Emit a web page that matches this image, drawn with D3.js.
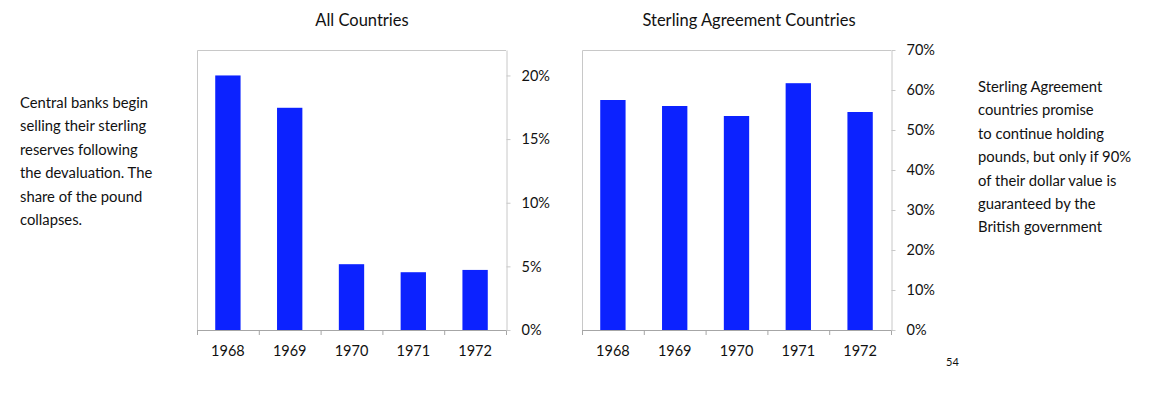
<!DOCTYPE html>
<html>
<head>
    <meta charset="UTF-8">
    <title>Sterling reserves</title>
    <script src="https://d3js.org/d3.v7.min.js"></script>
    <style>
        body { margin: 0; background: #fff; }
        svg text { font-family: Lato, "Open Sans", sans-serif; fill: #111; }
        .title { font-size: 16.5px; text-anchor: middle; }
        .tick text { font-size: 14.5px; }
        .note { font-size: 14.8px; }
        .frame { fill: none; stroke: #c8c8c8; stroke-width: 1; }
    </style>
</head>
<body>
<script>
    const years = ['1968', '1969', '1970', '1971', '1972'];
    const allCountries = [0.200, 0.1746, 0.0517, 0.0454, 0.0472];
    const sterlingAgreement = [0.575, 0.560, 0.535, 0.617, 0.545];
    const allTicks = [0, 0.05, 0.10, 0.15, 0.20];
    const sterlingTicks = [0, 0.1, 0.2, 0.3, 0.4, 0.5, 0.6, 0.7];

    const leftNote = ['Central banks begin', 'selling their sterling', 'reserves following',
        'the devaluation. The', 'share of the pound', 'collapses.'];
    const rightNote = ['Sterling Agreement', 'countries promise', 'to continue holding',
        'pounds, but only if 90%', 'of their dollar value is', 'guaranteed by the', 'British government'];

    const width = 1161;
    const height = 398;

    const svg = d3.select('body')
        .append('svg')
        .attr('width', width)
        .attr('height', height);

    function drawChart(opts) {
        const x = d3.scaleBand()
            .domain(years)
            .range([opts.left, opts.right])
            .paddingInner(0.59)
            .paddingOuter(0.295);

        const y = d3.scaleLinear()
            .domain([0, opts.max])
            .range([opts.bottom, opts.top]);

        const g = svg.append('g');

        // plot frame (left + top), right axis drawn separately
        g.append('path')
            .attr('class', 'frame')
            .attr('d', `M${opts.left + 0.5},${opts.bottom}V${opts.top + 0.5}H${opts.right}`);

        g.selectAll('.bar')
            .data(opts.values)
            .enter()
            .append('rect')
            .attr('class', 'bar')
            .attr('x', (d, i) => x(years[i]))
            .attr('y', d => y(d))
            .attr('width', x.bandwidth())
            .attr('height', d => opts.bottom - y(d))
            .attr('fill', '#0c22ff');

        // category axis
        const xAxis = g.append('g')
            .attr('transform', `translate(0, ${opts.bottom})`)
            .call(d3.axisBottom(x).tickSize(0).tickPadding(16));
        xAxis.select('.domain').attr('stroke', '#a6a6a6');
        // separator ticks between categories
        const step = x.step();
        xAxis.selectAll('.sep')
            .data(d3.range(years.length + 1))
            .enter()
            .append('line')
            .attr('x1', i => opts.left + 0.5 + i * step)
            .attr('x2', i => opts.left + 0.5 + i * step)
            .attr('y1', 0)
            .attr('y2', 5)
            .attr('stroke', '#a6a6a6');

        // value axis on the right
        const yAxis = g.append('g')
            .attr('transform', `translate(${opts.right + 0.5}, 0)`)
            .call(d3.axisRight(y)
                .tickValues(opts.ticks)
                .tickFormat(d3.format('.0%'))
                .tickSize(4)
                .tickSizeOuter(0)
                .tickPadding(11));
        yAxis.select('.domain').attr('stroke', '#c8c8c8');
        yAxis.selectAll('.tick line').attr('stroke', '#c8c8c8');
        yAxis.selectAll('.tick text').attr('text-anchor', 'start');

        svg.append('text')
            .attr('class', 'title')
            .attr('x', opts.titleX)
            .attr('y', 26)
            .text(opts.title);
    }

    drawChart({
        left: 197, right: 506, top: 50, bottom: 330,
        max: 0.22, values: allCountries, ticks: allTicks,
        title: 'All Countries', titleX: 362
    });

    drawChart({
        left: 582, right: 891, top: 50, bottom: 330,
        max: 0.70, values: sterlingAgreement, ticks: sterlingTicks,
        title: 'Sterling Agreement Countries', titleX: 749
    });

    svg.append('g')
        .selectAll('text')
        .data(leftNote)
        .enter()
        .append('text')
        .attr('class', 'note')
        .attr('x', 20)
        .attr('y', (d, i) => 108 + i * 23.4)
        .text(d => d);

    svg.append('g')
        .selectAll('text')
        .data(rightNote)
        .enter()
        .append('text')
        .attr('class', 'note')
        .attr('x', 978)
        .attr('y', (d, i) => 92 + i * 23.4)
        .text(d => d);

    svg.append('text')
        .attr('x', 946)
        .attr('y', 366)
        .style('font-size', '11px')
        .text('54');
</script>
</body>
</html>
